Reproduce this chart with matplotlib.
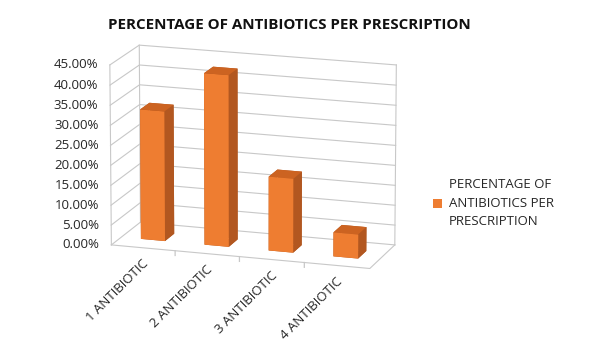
import matplotlib
matplotlib.use('Agg')
import matplotlib.pyplot as plt
import numpy as np
from matplotlib.patches import Patch
from mpl_toolkits.mplot3d import proj3d

categories = ['1 ANTIBIOTIC', '2 ANTIBIOTIC', '3 ANTIBIOTIC', '4 ANTIBIOTIC']
values = [0.326, 0.429, 0.185, 0.060]
z_ticks = [0.00, 0.05, 0.10, 0.15, 0.20, 0.25, 0.30, 0.35, 0.40, 0.45]
title = 'PERCENTAGE OF ANTIBIOTICS PER PRESCRIPTION'
series_name = 'PERCENTAGE OF\nANTIBIOTICS PER\nPRESCRIPTION'

plt.rcParams['font.family'] = ['Open Sans', 'DejaVu Sans']

FRONT = '#EE7D31'
SIDE = '#B25720'
TOP = '#CC6321'
GRID = '#C8C8C8'
TEXT = '#262626'

fig = plt.figure(figsize=(5.9, 3.55), dpi=100)
ax = fig.add_axes([0.011, 0.059, 0.82, 0.98], projection='3d')

n = len(categories)
x = np.arange(n)
x0, x1 = -0.5, n - 0.5
D = 1.3          # floor depth
w = 0.38         # bar width
d = 0.42         # bar depth
face_colors = []
for _ in categories:
    # faces: -z, +z, -y, +y, -x, +x
    face_colors += [SIDE, TOP, FRONT, SIDE, SIDE, SIDE]

# walls: horizontal gridlines on the left wall and the back wall
for zt in z_ticks:
    ax.plot([x0, x0, x1], [0, D, D], [zt, zt, zt], color=GRID, lw=0.8, zorder=0)
# back wall right edge, left wall back edge, floor outline, value axis
ax.plot([x1, x1], [D, D], [0, z_ticks[-1]], color=GRID, lw=0.8)
ax.plot([x0, x0], [D, D], [0, z_ticks[-1]], color=GRID, lw=0.8)
ax.plot([x0, x1, x1], [0, 0, D], [0, 0, 0], color=GRID, lw=0.8)
ax.plot([x0, x0], [0, 0], [0, z_ticks[-1]], color=GRID, lw=0.8)
# category boundary tick marks on the floor's front edge
for b in np.arange(0.5, n - 0.5, 1.0):
    ax.plot([b, b], [0, 0], [0, -0.012], color=GRID, lw=0.9)

ax.bar3d(x - w / 2, np.full(n, (D - d) / 2), np.zeros(n),
         w, d, values, color=face_colors, shade=False, edgecolor='none')

ax.set_xlim(x0, x1)
ax.set_ylim(0, D)
ax.set_zlim(0, z_ticks[-1])
ax.set_box_aspect((4, D, 2.75), zoom=0.95)
ax.view_init(elev=15, azim=-72)
ax.set_proj_type('persp', focal_length=2.4)

# turn off mplot3d's own panes, axis lines and grids
ax.grid(False)
for axis in (ax.xaxis, ax.yaxis, ax.zaxis):
    axis.pane.fill = False
    axis.pane.set_edgecolor((1, 1, 1, 0))
    axis.line.set_color((1, 1, 1, 0))
ax.set_yticks([])
ax.set_zticks([])

# category labels
ax.set_xticks(x)
ax.set_xticklabels(categories, rotation=45, ha='right', va='top',
                   fontsize=9.5, color=TEXT, rotation_mode='anchor')
ax.tick_params(axis='x', pad=-2)
for t in ax.xaxis.get_major_ticks():
    t.tick1line.set_visible(False)
    t.tick2line.set_visible(False)
ax.xaxis._axinfo['tick']['inward_factor'] = 0
ax.xaxis._axinfo['tick']['outward_factor'] = 0

fig.text(0.49, 0.93, title, ha='center', va='center', fontsize=10.9,
         fontweight='bold', color='#111111')

leg = fig.legend(handles=[Patch(facecolor=FRONT, edgecolor='none', label=series_name)],
                 loc='center left', bbox_to_anchor=(0.713, 0.428), frameon=False,
                 fontsize=9.5, handlelength=0.7, handleheight=0.7, handletextpad=0.55,
                 labelcolor=TEXT)
for t in leg.get_texts():
    t.set_linespacing(1.55)

# value labels beside the front-left vertical axis (projected by mplot3d)
fig.canvas.draw()
W, H = fig.canvas.get_width_height()
for zt in z_ticks:
    px, py, _ = proj3d.proj_transform(x0, 0, zt, ax.M)
    dx, dy = ax.transData.transform((px, py))
    fig.text((dx - 12) / W, dy / H, f'{zt*100:.2f}%', ha='right',
             va='center', fontsize=9.5, color=TEXT)

fig.savefig('out.png', dpi=100)
